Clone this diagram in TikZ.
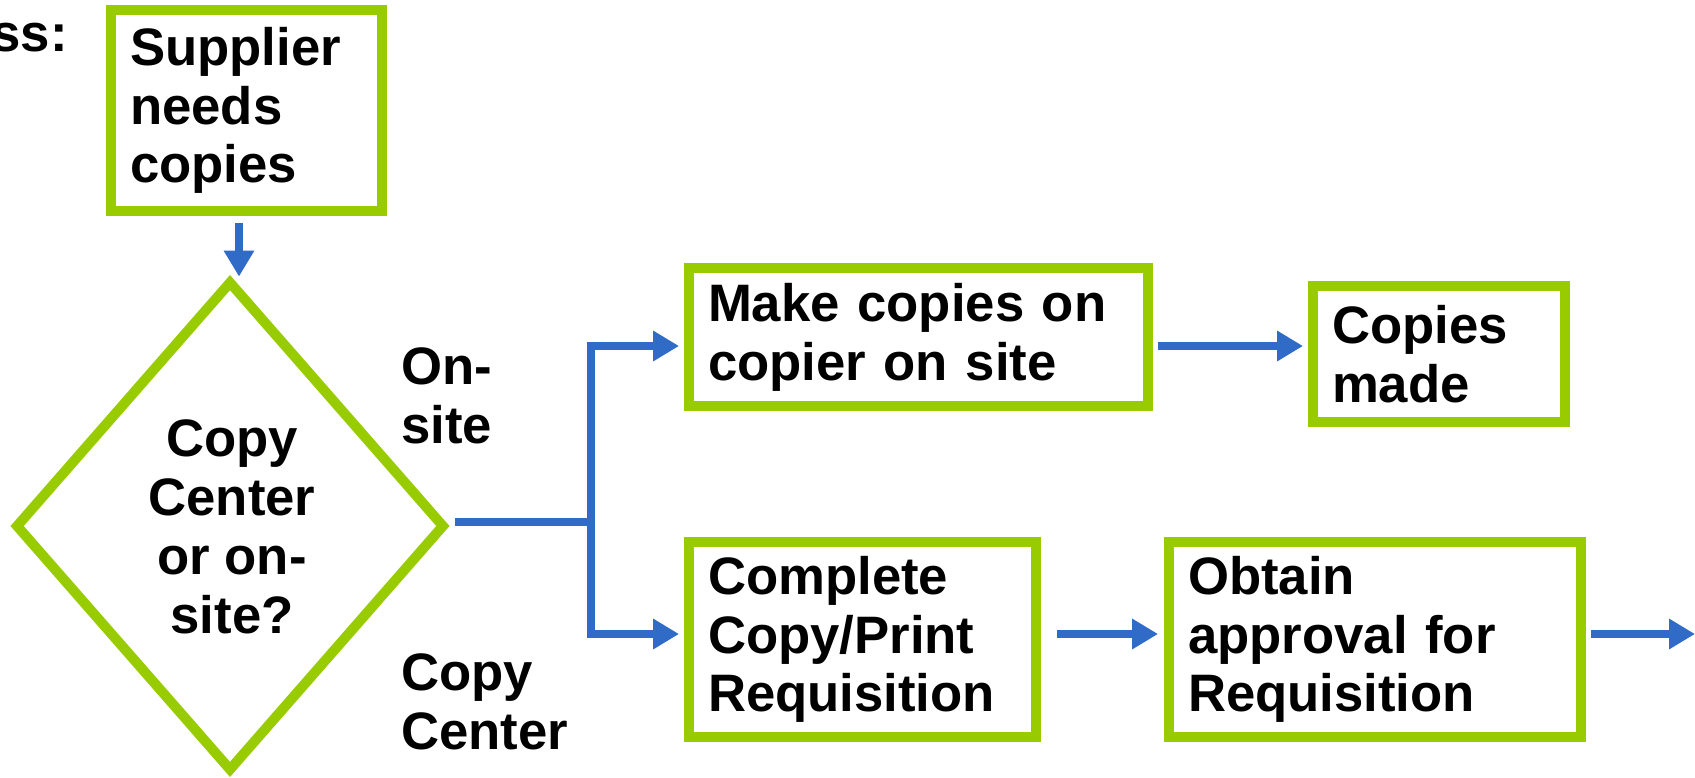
\documentclass[tikz,border=0pt]{standalone}
\usepackage{fontspec}
\setmainfont{Liberation Sans}
\usetikzlibrary{arrows.meta,shapes.geometric}
\definecolor{grn}{HTML}{99CC00}
\definecolor{blu}{HTML}{2F6BC7}
\begin{document}
\begin{tikzpicture}[x=0.02cm,y=-0.02cm,
  txt/.style={font=\fontsize{30}{33.5}\selectfont\bfseries, text=black},
  box/.style={txt, draw=grn, line width=0.2cm, align=left, inner xsep=0.38cm, inner ysep=0pt},
  dia/.style={diamond, draw=grn, line width=0.2cm, inner sep=0pt, minimum width=8.6cm, minimum height=9.82cm},
  conn/.style={draw=blu, line width=0.17cm},
  arr/.style={conn, -{Triangle[length=0.52cm,width=0.58cm]}},
  lbl/.style={txt, inner sep=0pt}]
\useasboundingbox (0,0) rectangle (1695,778);

% header fragment
\node[lbl, anchor=base east] (hdr) at (68,51) {ss:};

% boxes
\node[box, text width=4.66cm, minimum width=5.42cm, minimum height=4.02cm] (b1) at (246.5,110.5) {Supplier\\needs\\copies};
\node[dia] (d) at (230,526) {};
\node[lbl, align=center] (dq) at (232,527) {Copy\\Center\\or on-\\site?};
\node[box, text width=8.42cm, minimum width=9.18cm, minimum height=2.76cm] (b2) at (918.5,337) {Make copies on\\copier on site};
\node[box, text width=4.28cm, minimum width=5.04cm, minimum height=2.72cm] (b3) at (1439,354) {Copies\\made};
\node[box, text width=6.18cm, minimum width=6.94cm, minimum height=3.9cm] (b4) at (862.5,639.5) {Complete\\Copy/Print\\Requisition};
\node[box, text width=7.48cm, minimum width=8.24cm, minimum height=3.9cm] (b5) at (1375,639.5) {Obtain\\approval for\\Requisition};

% branch labels
\node[lbl, anchor=west, align=left] (lon) at (401,396) {On-\\site};
\node[lbl, anchor=west, align=left] (lcc) at (401,702) {Copy\\Center};

% connectors
\coordinate (j) at (591,522);
\coordinate (exit) at (1695,634);
\draw[arr, shorten <=0.14cm, shorten >=-0.02cm] ([xshift=-0.15cm]b1.south) -- ([xshift=-0.15cm]b1.south |- d.north);
\draw[conn, shorten <=0.1cm] (d.east |- j) -- (j);
\draw[arr, shorten >=0.1cm] (j) |- (b2.west |- 0,346);
\draw[arr, shorten >=0.1cm] (j) |- (b4.west |- 0,634);
\draw[arr, shorten <=0.1cm, shorten >=0.1cm] (b2.east |- 0,346) -- (b3.west |- 0,346);
\draw[arr, shorten <=0.32cm, shorten >=0.12cm] (b4.east |- 0,634) -- (b5.west |- 0,634);
\draw[arr, shorten <=0.1cm] (b5.east |- 0,634) -- (exit);
\end{tikzpicture}
\end{document}
